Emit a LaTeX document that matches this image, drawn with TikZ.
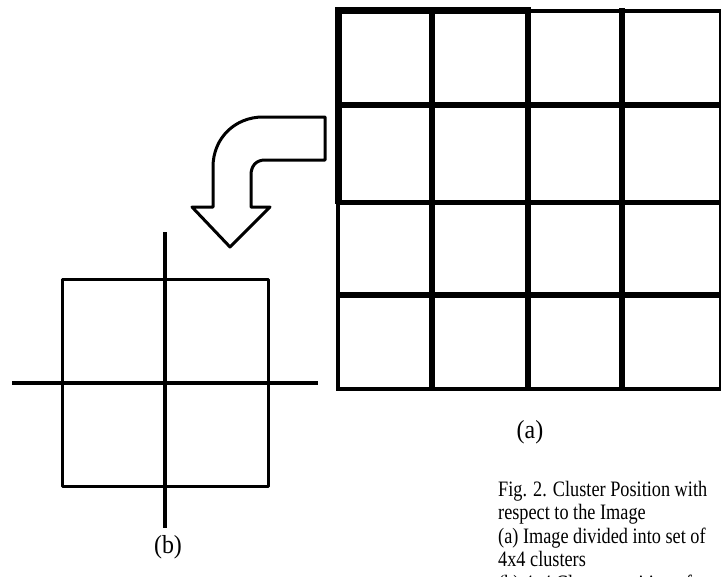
\documentclass[tikz,border=0pt]{standalone}
\usepackage{fontspec}
\setmainfont[FakeStretch=0.83]{Liberation Serif}
\newfontfamily\lblfont[FakeStretch=0.92]{Liberation Serif}
\begin{document}
\begin{tikzpicture}[x=1pt,y=-1pt,
  thk/.style={line width=6pt},
  blk/.style={line width=3pt, line join=round},
  lbl/.style={font=\lblfont\fontsize{26}{28}\selectfont, inner sep=0pt},
  capt/.style={font=\fontsize{22}{23.4}\selectfont, inner sep=0pt, anchor=north west, align=left}]
\useasboundingbox (0,0) rectangle (728,576);
\clip (0,0) rectangle (728,576);
% grid (a)
\draw[line width=7pt] (335,10) -- (531,10);
\draw[line width=4pt] (529,11) -- (721,11);
\draw[line width=7pt] (338,7) -- (338,204);
\draw[line width=4pt] (338,200) -- (338,391);
\foreach \x in {432,528,622} \draw[thk] (\x,8) -- (\x,391);
\draw[thk] (336,105) -- (721,105);
\draw[line width=5pt] (336,202) -- (721,202);
\draw[thk] (336,295) -- (721,295);
\draw[line width=4pt] (336,389) -- (721,389);
\draw[line width=2.5pt] (720,9) -- (720,391);
\node[lbl] (la) at (530,432) {(a)};
% curved block arrow
\draw[blk] (325,117) -- (263,117) .. controls (235,117) and (213,138) .. (213,167)
  -- (213,207) -- (192,207) -- (230,247) -- (270,207) -- (251,207) -- (251,175)
  .. controls (251,166) and (256,160) .. (265,160) -- (325,160) -- cycle;
% (b)
\draw[blk] (62,279) rectangle (268,486);
\draw[line width=3.5pt] (12,383) -- (318,383);
\draw[line width=3.5pt] (165,232) -- (165,528);
\node[lbl] (lb) at (168,547) {(b)};
% caption
\node[capt] (cap) at (498,481) {Fig. 2. Cluster Position with\\respect to the Image\\(a) Image divided into set of\\4x4 clusters\\(b) 4x4 Cluster position of};
\end{tikzpicture}
\end{document}
